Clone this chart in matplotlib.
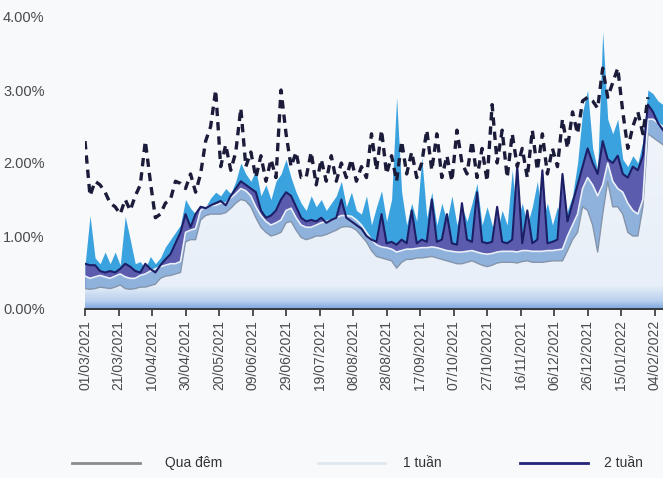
import numpy as np
import pandas as pd
import matplotlib
matplotlib.use("Agg")
import matplotlib.pyplot as plt
import matplotlib.dates as mdates
from matplotlib.colors import LinearSegmentedColormap
from matplotlib.lines import Line2D

plt.rcParams["font.family"] = ["Liberation Sans", "DejaVu Sans"]

# sampled every 3 days, 01/03/2021 -> 09/02/2022
dates = pd.date_range("2021-03-01", periods=116, freq="3D")

qua_dem = [0.28, 0.27, 0.28, 0.30, 0.29, 0.28, 0.30, 0.33, 0.28, 0.27,
           0.28, 0.30, 0.30, 0.32, 0.34, 0.42, 0.45, 0.46, 0.48, 0.50,
           0.92, 0.95, 0.95, 1.22, 1.28, 1.30, 1.30, 1.30, 1.32, 1.38,
           1.45, 1.50, 1.48, 1.40, 1.25, 1.12, 1.05, 1.00, 1.02, 1.05,
           1.18, 1.20, 1.08, 0.98, 0.95, 0.97, 1.00, 1.00, 1.02, 1.05,
           1.08, 1.12, 1.13, 1.12, 1.08, 1.00, 0.92, 0.80, 0.72, 0.70,
           0.68, 0.66, 0.56, 0.64, 0.68, 0.68, 0.70, 0.70, 0.71, 0.72,
           0.70, 0.68, 0.66, 0.64, 0.62, 0.62, 0.64, 0.66, 0.63, 0.60,
           0.58, 0.60, 0.63, 0.64, 0.64, 0.64, 0.63, 0.65, 0.66, 0.64,
           0.64, 0.64, 0.65, 0.66, 0.66, 0.66, 0.80, 0.95, 1.05, 1.40,
           1.35, 1.15, 0.78, 1.30, 1.75, 1.40, 1.40, 1.30, 1.05, 1.00,
           1.00, 1.40, 2.40, 2.35, 2.30, 2.25]

tuan_1 = [0.45, 0.42, 0.44, 0.46, 0.44, 0.42, 0.45, 0.48, 0.44, 0.42,
          0.42, 0.46, 0.48, 0.52, 0.55, 0.58, 0.60, 0.62, 0.62, 0.65,
          1.05, 1.08, 1.10, 1.35, 1.40, 1.42, 1.42, 1.45, 1.45, 1.52,
          1.58, 1.65, 1.62, 1.55, 1.40, 1.28, 1.20, 1.15, 1.18, 1.22,
          1.35, 1.38, 1.25, 1.15, 1.12, 1.12, 1.15, 1.18, 1.20, 1.22,
          1.25, 1.28, 1.28, 1.27, 1.22, 1.15, 1.05, 0.95, 0.88, 0.85,
          0.84, 0.82, 0.78, 0.80, 0.82, 0.82, 0.83, 0.84, 0.84, 0.85,
          0.84, 0.82, 0.80, 0.79, 0.78, 0.78, 0.79, 0.80, 0.78, 0.76,
          0.75, 0.76, 0.78, 0.79, 0.79, 0.79, 0.78, 0.80, 0.80, 0.79,
          0.79, 0.79, 0.80, 0.80, 0.81, 0.82, 1.00, 1.15, 1.30, 1.65,
          1.80, 1.70, 1.55, 1.70, 2.00, 1.75, 1.65, 1.60, 1.45, 1.35,
          1.30, 1.50, 2.60, 2.60, 2.55, 2.50]

tuan_2 = [0.62, 0.60, 0.60, 0.52, 0.50, 0.52, 0.50, 0.55, 0.62, 0.58,
          0.52, 0.50, 0.62, 0.55, 0.50, 0.60, 0.68, 0.75, 0.90, 1.05,
          1.30, 1.12, 1.30, 1.40, 1.38, 1.42, 1.45, 1.48, 1.42, 1.55,
          1.65, 1.75, 1.70, 1.65, 1.60, 1.35, 1.25, 1.28, 1.35, 1.50,
          1.60, 1.55, 1.40, 1.25, 1.20, 1.22, 1.20, 1.25, 1.18, 1.22,
          1.25, 1.50, 1.25, 1.20, 1.15, 1.10, 1.00, 0.95, 0.92, 1.30,
          0.90, 0.92, 0.88, 0.95, 0.90, 1.35, 0.90, 0.95, 0.92, 1.50,
          0.92, 0.95, 1.30, 0.90, 0.88, 1.45, 0.95, 0.92, 1.60, 0.92,
          0.90, 0.92, 1.40, 0.92, 0.90, 0.95, 1.95, 0.90, 1.35, 0.90,
          0.95, 1.90, 0.90, 0.92, 0.95, 1.85, 1.20, 1.45, 1.70, 1.95,
          2.20, 2.00, 1.85, 2.30, 2.05, 2.00, 2.10, 1.85, 1.80, 1.95,
          1.90, 2.10, 2.80, 2.70, 2.55, 2.45]

thang_1 = [0.60, 1.28, 0.70, 0.62, 0.78, 0.62, 0.78, 0.60, 1.27, 0.95,
           0.62, 0.65, 0.55, 0.72, 0.62, 0.70, 0.85, 0.95, 1.05, 1.15,
           1.50, 1.38, 1.30, 1.42, 1.40, 1.52, 1.60, 1.55, 1.65, 1.58,
           1.75, 2.00, 1.85, 1.75, 1.90, 1.55, 1.70, 1.50, 1.75, 1.85,
           2.05, 1.80, 1.60, 1.45, 1.35, 1.55, 1.40, 1.50, 1.35, 1.45,
           1.55, 1.75, 1.40, 1.60, 1.35, 1.30, 1.55, 1.15, 1.40, 1.62,
           1.20, 1.50, 2.90, 1.60, 1.15, 1.45, 1.20, 2.08, 1.25, 1.60,
           1.15, 1.45, 1.20, 1.55, 1.15, 1.40, 1.20, 1.45, 1.72, 1.15,
           1.40, 1.15, 1.05, 1.35, 1.15, 1.90, 1.20, 1.45, 1.15, 1.40,
           1.75, 1.20, 1.45, 1.15, 1.40, 1.20, 1.35, 1.55, 2.00, 2.70,
           3.00, 2.20, 1.90, 3.80, 2.60, 2.40, 2.60, 2.05, 1.95, 2.10,
           2.00, 2.30, 3.00, 2.95, 2.85, 2.80]

thang_3 = [2.30, 1.55, 1.75, 1.70, 1.60, 1.45, 1.40, 1.30, 1.50, 1.35,
           1.55, 1.70, 2.30, 1.75, 1.25, 1.30, 1.45, 1.50, 1.75, 1.72,
           1.65, 1.85, 1.60, 1.85, 2.30, 2.50, 3.00, 1.95, 2.25, 1.90,
           2.15, 2.75, 1.95, 2.15, 1.80, 2.10, 1.75, 2.05, 1.80, 3.00,
           2.40, 1.95, 2.15, 1.80, 1.80, 2.15, 1.70, 2.05, 1.75, 2.10,
           1.75, 2.00, 1.80, 2.05, 1.75, 1.95, 1.80, 2.40, 1.90, 2.45,
           1.85, 2.10, 1.75, 2.30, 1.85, 2.15, 1.80, 2.00, 2.45, 1.90,
           2.40, 1.80, 2.10, 1.75, 2.45, 2.00, 1.85, 2.30, 1.80, 2.20,
           1.75, 2.80, 2.00, 2.45, 1.80, 2.40, 1.95, 2.20, 1.80, 2.45,
           1.90, 2.40, 1.85, 2.20, 1.95, 2.60, 2.20, 2.70, 2.40, 2.85,
           2.90, 2.85, 2.75, 3.30, 2.90, 3.10, 3.30, 2.70, 2.20, 2.50,
           2.70, 2.40, 2.90, None, None, None]

tick_dates = pd.date_range("2021-03-01", "2022-02-04", freq="20D")
y_ticks = [0, 1, 2, 3, 4]
y_labels = ["0.00%", "1.00%", "2.00%", "3.00%", "4.00%"]

thang_3 = np.array([np.nan if v is None else v for v in thang_3])

fig = plt.figure(figsize=(6.63, 4.78), dpi=100, facecolor="#f8f9fb")
ax = fig.add_axes([85 / 663, 169 / 478, 578 / 663, 292 / 478])
ax.set_facecolor("none")

ax.fill_between(dates, 0, thang_1, color="#3aa3df", lw=0, zorder=1)
ax.fill_between(dates, 0, tuan_2, color="#5c5cae", lw=0, zorder=2)
ax.fill_between(dates, 0, tuan_1, color="#8fb2dd", lw=0, zorder=3)
base = ax.fill_between(dates, 0, qua_dem, color="none", lw=0, zorder=4)

# pale area with blue gradient towards the axis
cmap = LinearSegmentedColormap.from_list(
    "pale", [(0, "#7fa6df"), (0.025, "#b8cfee"), (0.08, "#e8eff8"), (1, "#f5f8fc")])
x0 = mdates.date2num(dates[0])
x1 = mdates.date2num(dates[-1])
grad = np.linspace(0, 1, 256).reshape(-1, 1)
im = ax.imshow(grad, cmap=cmap, origin="lower", extent=[x0, x1, 0, 4],
               aspect="auto", zorder=4)
im.set_clip_path(base.get_paths()[0], ax.transData)

ax.plot(dates, qua_dem, color="#8494ab", lw=1.0, zorder=5)
ax.plot(dates, tuan_1, color="#eaf1f9", lw=1.2, zorder=5)
ax.plot(dates, tuan_2, color="#1d1f66", lw=1.5, zorder=6)
ax.plot(dates, thang_3, color="#1b1b3a", lw=2.4, dashes=(2.5, 1.8), zorder=7)

ax.set_xlim(dates[0], dates[-1])
ax.set_ylim(0, 4)
for s in ["top", "right", "left"]:
    ax.spines[s].set_visible(False)
ax.spines["bottom"].set_color("#333333")
ax.spines["bottom"].set_linewidth(1.3)
ax.spines["bottom"].set_zorder(8)

ax.set_xticks(tick_dates)
ax.set_xticklabels([d.strftime("%d/%m/%Y") for d in tick_dates],
                   rotation=90, fontsize=10, color="#4a4a4a")
ax.tick_params(axis="x", direction="out", length=5, width=1.2, color="#333333", pad=3)

ax.set_yticks(y_ticks)
ax.set_yticklabels(y_labels, fontsize=10.5, color="#4a4a4a", ha="left")
ax.tick_params(axis="y", length=0, pad=59)

# legend at the bottom
ly = 1 - 463 / 478
legend_items = [("Qua đêm", "#8a8a8a", 72, 140, 165),
                ("1 tuần", "#dfe8f0", 318, 385, 403),
                ("2 tuần", "#23237a", 520, 588, 604)]
for name, col, a, b, t in legend_items:
    fig.add_artist(Line2D([a / 663, b / 663], [ly, ly], color=col, lw=2,
                          transform=fig.transFigure))
    fig.text(t / 663, ly, name, fontsize=10, color="#333333", va="center")

fig.savefig("out.png", dpi=100, facecolor=fig.get_facecolor())
